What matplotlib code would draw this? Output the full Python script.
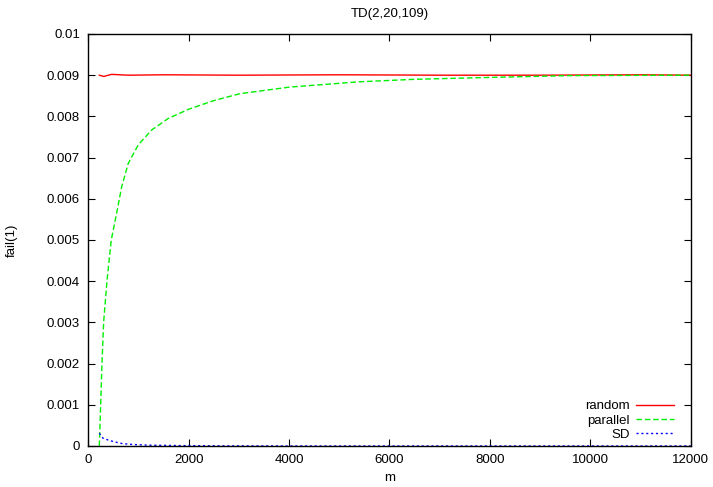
import matplotlib
matplotlib.use("Agg")
import matplotlib.pyplot as plt
from matplotlib.ticker import FuncFormatter

plt.rcParams['font.family'] = ['Liberation Sans', 'DejaVu Sans']

# data
m_random = [220, 310, 465, 800, 1500, 3000, 5000, 7000, 9000, 11000, 12000]
random_vals = [0.00900, 0.00897, 0.00902, 0.00900, 0.00901, 0.00900, 0.00901, 0.00900, 0.00900, 0.00901, 0.00900]

m_parallel = [220, 247, 273, 306, 372, 458, 565, 665, 797, 996, 1263, 1594, 1992,
              2490, 3016, 4000, 5400, 6500, 7790, 9580, 12000]
parallel_vals = [0.0, 0.0010, 0.0020, 0.0030, 0.0040, 0.0050, 0.00565, 0.00629, 0.00686,
                 0.00731, 0.00767, 0.00795, 0.00817, 0.00838, 0.00855, 0.00871, 0.00884,
                 0.00890, 0.00894, 0.00899, 0.00900]

m_sd = [220, 293, 392, 492, 592, 690, 900, 1200, 1800, 2600, 4000, 8000, 12000]
sd_vals = [0.00031, 0.00019, 0.000146, 0.00011, 0.00008, 0.000056, 0.000035, 0.00002,
           0.00001, 0.000003, 0.0, 0.0, 0.0]

x_ticks = list(range(0, 12001, 2000))
y_ticks = [i / 1000 for i in range(11)]

fig = plt.figure(figsize=(7.13, 4.87), dpi=100)
ax = fig.add_axes([0.1238, 0.0842, 0.8449, 0.8460])

ax.plot(m_random, random_vals, color="#ff0000", lw=1.0, label="random")
ax.plot(m_parallel, parallel_vals, color="#00ee00", lw=1.0, ls=(0, (4, 2)), label="parallel")
ax.plot(m_sd, sd_vals, color="#0000ff", lw=1.0, ls=(0, (1.5, 2)), label="SD")

ax.set_xlim(0, 12000)
ax.set_ylim(0, 0.01)
ax.set_xticks(x_ticks)
ax.set_yticks(y_ticks)
ax.yaxis.set_major_formatter(FuncFormatter(lambda v, p: "%g" % round(v, 4)))
ax.tick_params(direction="in", top=True, right=True, length=5, labelsize=9.5, pad=6)
for s in ax.spines.values():
    s.set_linewidth(1.0)

ax.set_title("TD(2,20,109)", fontsize=9.5, pad=12)
ax.set_xlabel("m", fontsize=9.5, labelpad=4)
ax.set_ylabel("fail(1)", fontsize=9.5, labelpad=21)

ax.legend(loc="lower right", bbox_to_anchor=(0.9816, 0.0), frameon=False, fontsize=9.5,
          markerfirst=False, handlelength=2.9, handletextpad=0.45, labelspacing=0.15,
          borderaxespad=0.0)

fig.savefig("out.png", dpi=100)
